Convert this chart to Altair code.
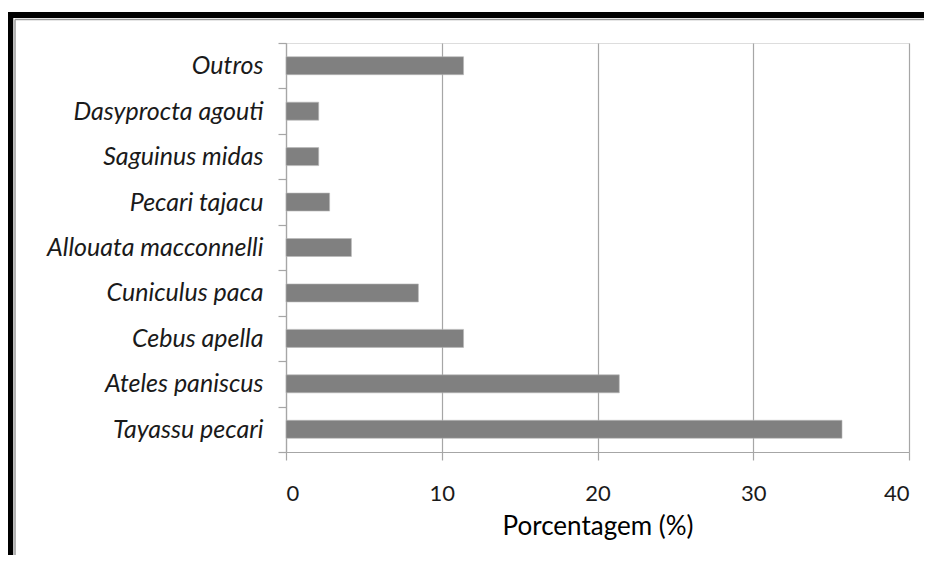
import altair as alt
import pandas as pd

categories = ["Outros", "Dasyprocta agouti", "Saguinus midas", "Pecari tajacu",
              "Allouata macconnelli", "Cuniculus paca", "Cebus apella",
              "Ateles paniscus", "Tayassu pecari"]
values = [11.4, 2.1, 2.1, 2.8, 4.2, 8.5, 11.4, 21.4, 35.7]
x_ticks = [0, 10, 20, 30, 40]

df = pd.DataFrame({"especie": categories, "pct": values})
one = pd.DataFrame({"k": [0]})

FONT = "Lato"
GRID = "#a6a6a6"

bars = alt.Chart(df).mark_bar(color="#808080", size=18, stroke="#b8b8b8", strokeWidth=0.6).encode(
    x=alt.X("pct:Q",
            scale=alt.Scale(domain=[0, 40], nice=False, zero=True),
            axis=alt.Axis(values=x_ticks, title="Porcentagem (%)", grid=True,
                          gridColor=GRID, gridWidth=1.2,
                          domainColor=GRID, domainWidth=1.2,
                          tickColor=GRID, tickSize=8, tickWidth=1.2,
                          labelFont=FONT, labelFontSize=22, labelColor="#1a1a1a",
                          labelPadding=23,
                          titleFont=FONT, titleFontSize=26, titleFontWeight="normal",
                          titleColor="#000000", titlePadding=9)),
    y=alt.Y("especie:N", sort=categories,
            scale=alt.Scale(paddingInner=0, paddingOuter=0),
            axis=alt.Axis(title=None, grid=False, tickBand="extent",
                          domainColor=GRID, domainWidth=1.2,
                          tickColor=GRID, tickSize=8, tickWidth=1.2,
                          labelFont=FONT, labelFontSize=25, labelFontStyle="italic",
                          labelColor="#1a1a1a", labelPadding=15, labelLimit=400)),
)

left_black = alt.Chart(one).mark_rule(color="black", strokeWidth=6.5).encode(
    x=alt.value(-276), y=alt.value(-31), y2=alt.value(530))
top_black = alt.Chart(one).mark_rule(color="black", strokeWidth=6).encode(
    x=alt.value(-279), x2=alt.value(660), y=alt.value(-28))
left_grey = alt.Chart(one).mark_rule(color="#9a9a9a", strokeWidth=1.5).encode(
    x=alt.value(-271), y=alt.value(-23.5), y2=alt.value(530))
top_grey = alt.Chart(one).mark_rule(color="#9a9a9a", strokeWidth=1.5).encode(
    x=alt.value(-271), x2=alt.value(660), y=alt.value(-23.5))

chart = alt.layer(bars, left_black, top_black, left_grey, top_grey).properties(
    width=623, height=409,
    autosize=alt.AutoSizeParams(type="none"),
    padding={"left": 278, "top": 35, "right": 15, "bottom": 103},
).configure_view(stroke=None).configure(background="white")

chart.save("out.html", embed_options={"renderer": "svg", "actions": False})
